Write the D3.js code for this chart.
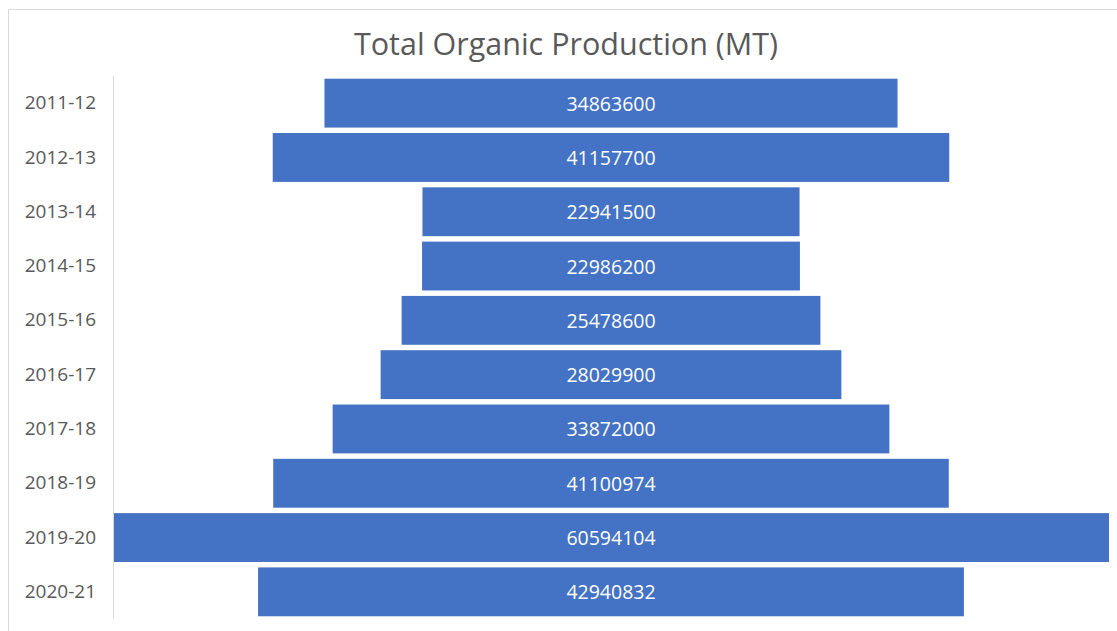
<!DOCTYPE html>
<html>
<head>
<meta charset="utf-8">
<script src="https://cdn.jsdelivr.net/npm/d3@7"></script>
<style>
  html, body { margin: 0; padding: 0; background: #fff; }
  svg { display: block; font-family: "Open Sans", "Noto Sans", sans-serif; }
</style>
</head>
<body>
<div class="funnel-container"></div>
<script>
// Data
const years = ['2011-12', '2012-13', '2013-14', '2014-15', '2015-16',
               '2016-17', '2017-18', '2018-19', '2019-20', '2020-21'];
const production = [34863600, 41157700, 22941500, 22986200, 25478600,
                    28029900, 33872000, 41100974, 60594104, 42940832];
const chartTitle = 'Total Organic Production (MT)';

const rows = years.map((y, i) => ({ year: y, value: production[i] }));

// canvas
const svg_width = 1117;
const svg_height = 631;
const plot = { left: 113, right: 1109, top: 76, bottom: 619 };
const center = (plot.left + plot.right) / 2;

const svg = d3.select('.funnel-container').append('svg')
    .attr('width', svg_width).attr('height', svg_height);

// chart area border (cropped on right/bottom)
svg.append('path')
    .attr('d', `M8.5,640 V9.5 H1130`)
    .style('fill', 'none').style('stroke', '#d9d9d9').style('stroke-width', 1);

// scales
const yScale = d3.scaleBand().domain(years)
    .range([plot.top, plot.bottom])
    .paddingInner(0.1).paddingOuter(0.05);
const wScale = d3.scaleLinear().domain([0, d3.max(production)])
    .range([0, plot.right - plot.left]);

// bars, centred
const bars = svg.append('g').attr('class', 'funnel');
bars.selectAll('rect').data(rows).enter()
    .append('rect')
    .attr('x', d => center - wScale(d.value) / 2)
    .attr('y', d => yScale(d.year))
    .attr('width', d => wScale(d.value))
    .attr('height', yScale.bandwidth())
    .style('fill', '#4472c4');

bars.selectAll('text').data(rows).enter()
    .append('text')
    .attr('x', center)
    .attr('y', d => yScale(d.year) + yScale.bandwidth() / 2)
    .attr('text-anchor', 'middle')
    .attr('dominant-baseline', 'central')
    .style('font-size', '19.5px')
    .style('fill', '#ffffff')
    .text(d => d.value);

// category axis
const yAxis = d3.axisLeft(yScale).tickSize(0).tickPadding(17);
const axisG = svg.append('g').attr('class', 'y axis')
    .attr('transform', `translate(${plot.left},0)`)
    .call(yAxis);
axisG.attr('font-family', null);
axisG.select('.domain').attr('d', `M0.5,${plot.top} V${plot.bottom}`)
    .style('stroke', '#d9d9d9');
axisG.selectAll('text')
    .style('font-family', '"Open Sans", "Noto Sans", sans-serif')
    .style('font-size', '19px').style('fill', '#595959');

// title
svg.append('text')
    .attr('x', 566).attr('y', 55)
    .attr('text-anchor', 'middle')
    .style('font-size', '30.5px')
    .style('fill', '#595959')
    .text(chartTitle);
</script>
</body>
</html>
